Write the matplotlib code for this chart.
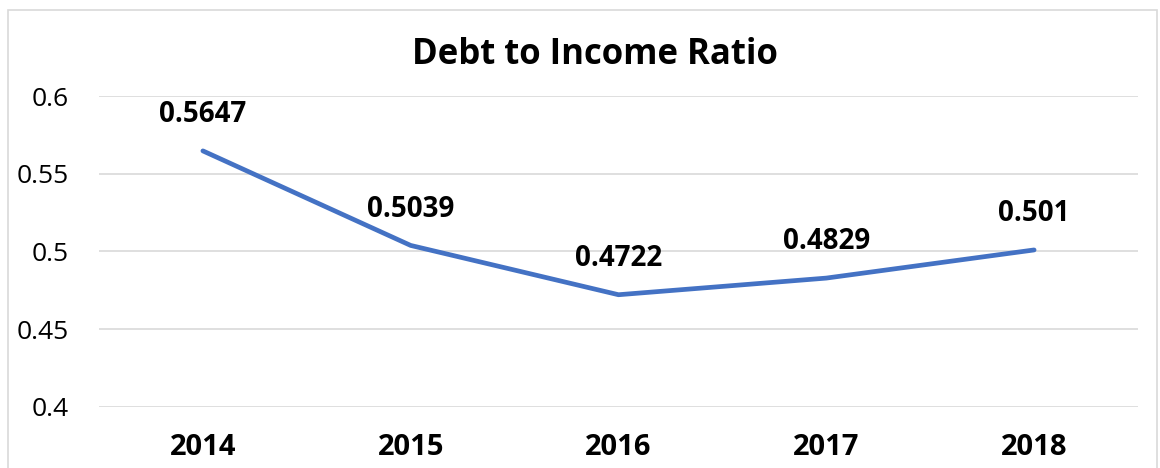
import matplotlib
matplotlib.use("Agg")
from matplotlib import pyplot as plt
from matplotlib.patches import Rectangle

years = ["2014", "2015", "2016", "2017", "2018"]
ratios = [0.5647, 0.5039, 0.4722, 0.4829, 0.501]
ratio_labels = ["0.5647", "0.5039", "0.4722", "0.4829", "0.501"]
y_ticks = [0.4, 0.45, 0.5, 0.55, 0.6]
y_tick_labels = ["0.4", "0.45", "0.5", "0.55", "0.6"]

plt.rcParams['font.family'] = ['Open Sans', 'DejaVu Sans']

fig = plt.figure(figsize=(11.6, 4.68), dpi=100)
ax = fig.add_axes([99 / 1160, 1 - 407 / 468, (1138 - 99) / 1160, (407 - 96) / 468])

# outer chart frame, open at the bottom edge
fig.patches.append(Rectangle((8 / 1160, -0.05), (1157 - 8) / 1160, 1.05 - 10 / 468,
                             transform=fig.transFigure, fill=False,
                             edgecolor="#d9d9d9", linewidth=1.2))

x = list(range(len(years)))
ax.plot(x, ratios, color="#4472C4", linewidth=3.4, solid_capstyle="round")

for xi, v, lab in zip(x, ratios, ratio_labels):
    ax.annotate(lab, (xi, v), xytext=(0, 26), textcoords="offset points",
                ha="center", va="center", fontsize=20, fontweight="bold", color="black")

ax.set_xlim(-0.5, 4.5)
ax.set_ylim(0.4, 0.6)
ax.set_yticks(y_ticks)
ax.set_yticklabels(y_tick_labels, fontsize=19)
ax.set_xticks(x)
ax.set_xticklabels(years, fontsize=21, fontweight="bold")
ax.tick_params(length=0)
ax.tick_params(axis="y", pad=22)
ax.tick_params(axis="x", pad=19)
ax.grid(axis="y", color="#d9d9d9", linewidth=1.2)
ax.set_axisbelow(True)
for s in ax.spines.values():
    s.set_visible(False)

fig.text(595 / 1160, 1 - 55 / 468, "Debt to Income Ratio", ha="center", va="center",
         fontsize=25, fontweight="bold")

fig.savefig("out.png", dpi=100)
